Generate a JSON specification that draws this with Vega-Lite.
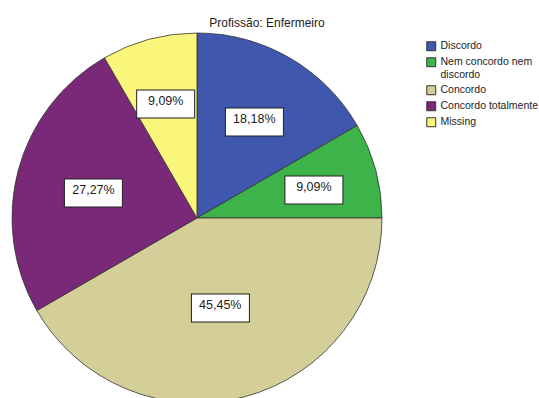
{
  "$schema": "https://vega.github.io/schema/vega-lite/v6.json",
  "width": 394,
  "height": 376,
  "autosize": {"type": "none"},
  "padding": {"left": 0, "top": 30, "right": 145, "bottom": 0},
  "background": "white",
  "title": {"text": "Profissão: Enfermeiro", "fontSize": 12, "fontWeight": "normal", "font": "Liberation Sans", "color": "#222222", "anchor": "middle", "dx": 70, "dy": 4},
  "data": {"values": [
    {"k": 1, "cat": "Discordo", "n": 2, "label": "18,18%"},
    {"k": 2, "cat": "Nem concordo nem discordo", "n": 1, "label": "9,09%"},
    {"k": 3, "cat": "Concordo", "n": 5, "label": "45,45%"},
    {"k": 4, "cat": "Concordo totalmente", "n": 3, "label": "27,27%"},
    {"k": 5, "cat": "Missing", "n": 1, "label": "9,09%"}
  ]},
  "encoding": {
    "theta": {"field": "n", "type": "quantitative", "stack": true},
    "order": {"field": "k", "type": "quantitative"}
  },
  "layer": [
    {
      "mark": {"type": "arc", "outerRadius": 185, "stroke": "#333333", "strokeWidth": 0.8},
      "encoding": {
        "color": {
          "field": "cat", "type": "nominal",
          "scale": {
            "domain": ["Discordo", "Nem concordo nem discordo", "Concordo", "Concordo totalmente", "Missing"],
            "range": ["#3F58AE", "#3DB349", "#D4CF98", "#7A2978", "#FAF57B"]
          },
          "legend": {
            "title": null, "orient": "none", "legendX": 426, "legendY": 11,
            "symbolType": "square", "symbolSize": 80, "symbolStrokeColor": "#333333", "symbolStrokeWidth": 1,
            "labelFont": "Liberation Sans", "labelFontSize": 10.5, "labelColor": "#222222",
            "rowPadding": 2, "labelOffset": 4, "labelLimit": 200,
            "labelExpr": "datum.label == 'Nem concordo nem discordo' ? ['Nem concordo nem', 'discordo'] : datum.label"
          }
        }
      }
    },
    {
      "mark": {"type": "text", "text": "▬", "font": "DejaVu Sans", "fontSize": 76, "fill": "white", "stroke": "#222222", "strokeWidth": 1, "baseline": "middle", "align": "center"},
      "encoding": {
        "radius": {"field": "n", "type": "quantitative", "scale": {"type": "pow", "exponent": 1.3, "domain": [1, 5], "range": [121, 90], "zero": false}}
      }
    },
    {
      "mark": {"type": "text", "font": "Liberation Sans", "fontSize": 12.5, "color": "#222222", "baseline": "middle", "align": "center"},
      "encoding": {
        "text": {"field": "label"},
        "radius": {"field": "n", "type": "quantitative", "scale": {"type": "pow", "exponent": 1.3, "domain": [1, 5], "range": [121, 90], "zero": false}}
      }
    }
  ]
}
